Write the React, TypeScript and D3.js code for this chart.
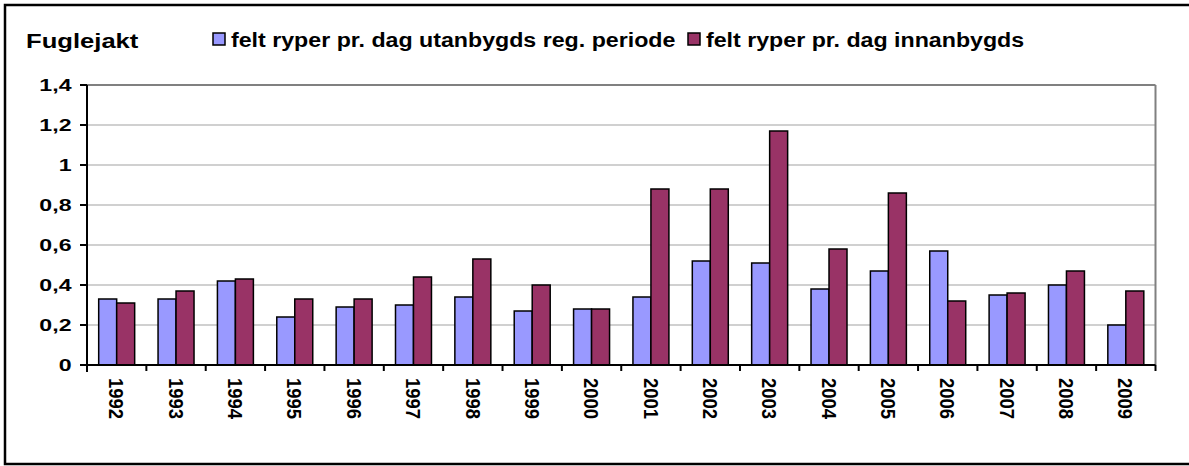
import React from 'react';
import { scaleBand, scaleLinear, range } from 'd3';

// chart data
const years = ['1992', '1993', '1994', '1995', '1996', '1997', '1998', '1999', '2000',
               '2001', '2002', '2003', '2004', '2005', '2006', '2007', '2008', '2009'];
const utanbygds = [0.33, 0.33, 0.42, 0.24, 0.29, 0.30, 0.34, 0.27, 0.28,
                   0.34, 0.52, 0.51, 0.38, 0.47, 0.57, 0.35, 0.40, 0.20];
const innanbygds = [0.31, 0.37, 0.43, 0.33, 0.33, 0.44, 0.53, 0.40, 0.28,
                    0.88, 0.88, 1.17, 0.58, 0.86, 0.32, 0.36, 0.47, 0.37];
const seriesNames = ['felt ryper pr. dag utanbygds reg. periode', 'felt ryper pr. dag innanbygds'];
const seriesColors = ['#9999FF', '#993366'];
const yTicks = [0, 0.2, 0.4, 0.6, 0.8, 1, 1.2, 1.4];
const title = 'Fuglejakt';

const font = '"Liberation Sans", Arial, sans-serif';

export default function App() {
    const width = 1189;
    const height = 466;
    const plot = { left: 87, right: 1155.5, top: 85, bottom: 365 };

    const x = scaleBand<string>().domain(years).range([plot.left, plot.right]).padding(0);
    const bw = x.bandwidth();
    const groupW = bw / 1.65; // excel gap width 65%
    const x1 = scaleBand<number>().domain([0, 1]).range([0, groupW]).padding(0);
    const y = scaleLinear().domain([0, 1.4]).range([plot.bottom, plot.top]);

    const series = [utanbygds, innanbygds];
    const fmt = (v: number) => String(+v.toFixed(1)).replace('.', ',');

    return (
        <div style={{ position: 'absolute', left: 0, top: 0 }}>
            <svg width={width} height={height} style={{ display: 'block' }}>
                <rect x={0} y={0} width={width} height={height} fill="#fff" />
                <rect x={5} y={5} width={1200} height={459} fill="none" stroke="#000" strokeWidth={2.5} />

                {/* title + legend */}
                <g transform="translate(26,48) scale(1.22,1)">
                    <text fontFamily={font} fontWeight="bold" fontSize={21} fill="#000">{title}</text>
                </g>
                {[213, 688].map((lx, i) => (
                    <g key={i}>
                        <rect x={lx} y={33} width={12} height={12} fill={seriesColors[i]} stroke="#000" strokeWidth={1.5} />
                        <g transform={`translate(${lx + 18},46.5) scale(1.16,1)`}>
                            <text fontFamily={font} fontWeight="bold" fontSize={20} fill="#000">{seriesNames[i]}</text>
                        </g>
                    </g>
                ))}

                {/* grid */}
                {yTicks.filter(t => t > 0 && t < 1.4).map(t => (
                    <line key={t} x1={plot.left} x2={plot.right} y1={y(t)} y2={y(t)} stroke="#c0c0c0" strokeWidth={1.5} />
                ))}
                <line x1={plot.left} x2={plot.right} y1={y(1.4)} y2={y(1.4)} stroke="#808080" strokeWidth={2} />
                <line x1={plot.right} x2={plot.right} y1={plot.top} y2={plot.bottom} stroke="#808080" strokeWidth={2} />

                {/* bars */}
                {years.map((yr, i) => (
                    <g key={yr} transform={`translate(${x(yr)! + (bw - groupW) / 2},0)`}>
                        {series.map((s, j) => (
                            <rect key={j}
                                  x={x1(j)}
                                  y={y(s[i])}
                                  width={x1.bandwidth()}
                                  height={y(0) - y(s[i])}
                                  fill={seriesColors[j]}
                                  stroke="#000"
                                  strokeWidth={1.5} />
                        ))}
                    </g>
                ))}

                {/* y axis */}
                <line x1={plot.left} x2={plot.left} y1={plot.top} y2={plot.bottom + 7} stroke="#000" strokeWidth={2} />
                {yTicks.map(t => (
                    <g key={t}>
                        <line x1={plot.left - 7} x2={plot.left} y1={y(t)} y2={y(t)} stroke="#000" strokeWidth={2} />
                        <g transform={`translate(71.5,${y(t) + 6.2}) scale(1.36,1)`}>
                            <text fontFamily={font} fontWeight="bold" fontSize={17} textAnchor="end" fill="#000">{fmt(t)}</text>
                        </g>
                    </g>
                ))}

                {/* x axis */}
                <line x1={plot.left} x2={plot.right} y1={plot.bottom} y2={plot.bottom} stroke="#000" strokeWidth={2} />
                {range(years.length + 1).map(k => (
                    <line key={k} x1={plot.left + k * bw} x2={plot.left + k * bw} y1={plot.bottom} y2={plot.bottom + 6} stroke="#000" strokeWidth={2} />
                ))}
                {years.map(yr => (
                    <g key={yr} transform={`translate(${x(yr)! + bw / 2},378) scale(1.1,1) rotate(90)`}>
                        <text fontFamily={font} fontWeight="bold" fontSize={18.5} dy="0.36em" fill="#000">{yr}</text>
                    </g>
                ))}
            </svg>
        </div>
    );
}
